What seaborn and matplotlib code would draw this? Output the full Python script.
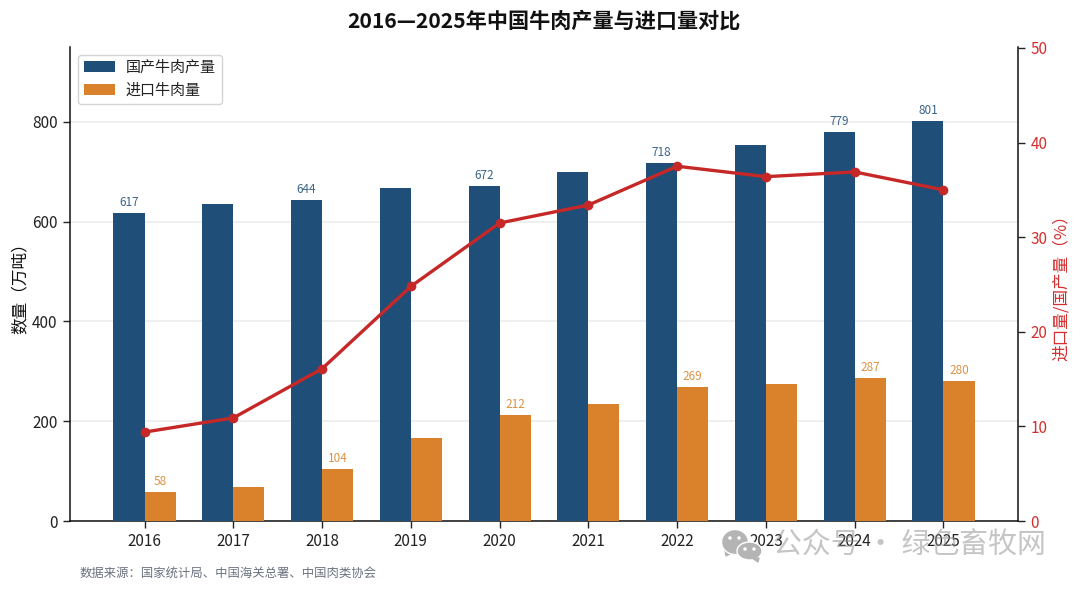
import matplotlib
matplotlib.use("Agg")
import matplotlib.pyplot as plt
from matplotlib.patches import Ellipse, Polygon
import pandas as pd
import seaborn as sns

years = ["2016", "2017", "2018", "2019", "2020", "2021", "2022", "2023", "2024", "2025"]
production = [617, 635, 644, 668, 672, 699, 718, 753, 779, 801]
imports = [58, 69, 104, 166, 212, 234, 269, 275, 287, 280]
ratio = [9.4, 10.9, 16.1, 24.8, 31.5, 33.4, 37.5, 36.4, 36.9, 35.0]
labelled_years = ["2016", "2018", "2020", "2022", "2024", "2025"]
prod_name = "国产牛肉产量"
imp_name = "进口牛肉量"
title = "2016—2025年中国牛肉产量与进口量对比"
source = "数据来源：国家统计局、中国海关总署、中国肉类协会"
watermark = "公众号 · 绿色畜牧网"

BLUE, ORANGE, RED = "#1f4e79", "#d9822b", "#c62828"

sns.set_theme(style="white")
plt.rcParams["font.family"] = ["Noto Sans CJK SC", "DejaVu Sans"]
plt.rcParams["axes.unicode_minus"] = False

df = pd.DataFrame({
    "year": years * 2,
    "value": production + imports,
    "series": [prod_name] * len(years) + [imp_name] * len(years),
})

fig = plt.figure(figsize=(10.8, 5.9), dpi=100)
ax = fig.add_axes([70 / 1080, 1 - 521 / 590, (1018 - 70) / 1080, (521 - 47) / 590])

sns.barplot(data=df, x="year", y="value", hue="series", order=years,
            hue_order=[prod_name, imp_name], palette=[BLUE, ORANGE],
            width=0.7, gap=0, saturation=1, linewidth=0, edgecolor="none", ax=ax, zorder=3)
ax.set_xlim(-0.84, 9.84)
ax.set_ylim(0, 950)
ax.set_yticks([0, 200, 400, 600, 800])
ax.grid(axis="y", color="#ececec", linewidth=1.2, zorder=0)
ax.set_axisbelow(True)
ax.set_xlabel("")
ax.set_ylabel("数量（万吨）", fontsize=12, color="#111111", labelpad=2)
ax.tick_params(axis="both", length=5, width=1, labelsize=11, color="#222222",
               labelcolor="#222222", bottom=True, left=True, pad=4)
for s in ["top", "right"]:
    ax.spines[s].set_visible(False)
for s in ["left", "bottom"]:
    ax.spines[s].set_color("#111111")
    ax.spines[s].set_linewidth(1.1)

for cont, vals, col in zip(ax.containers[:2], (production, imports), (BLUE, ORANGE)):
    labels = [str(v) if y in labelled_years else "" for y, v in zip(years, vals)]
    ax.bar_label(cont, labels=labels, padding=3, fontsize=8.5, color=col, alpha=0.88)

leg = ax.legend(loc="upper left", bbox_to_anchor=(0.0, 1.0), fontsize=10.8, frameon=True,
                edgecolor="#d4d4d4", framealpha=1, borderpad=0.42, handlelength=2.05,
                handleheight=0.75, handletextpad=0.75, labelspacing=0.58, labelcolor="#222222")
leg.get_frame().set_linewidth(1)

ax2 = ax.twinx()
sns.lineplot(x=years, y=ratio, ax=ax2, color=RED, linewidth=2.4, marker="o",
             markersize=7, markeredgewidth=0, sort=False, errorbar=None, zorder=5)
ax2.set_ylim(0, 50 * (521 - 47) / (521 - 48))
ax2.set_yticks([0, 10, 20, 30, 40, 50])
ax2.set_ylabel("进口量/国产量（%）", fontsize=12, color="#d32f2f", labelpad=4)
ax2.tick_params(axis="y", length=5, width=1, labelsize=11, color="#222222",
                labelcolor="#d32f2f", right=True, pad=4)
for s in ["top", "left", "bottom"]:
    ax2.spines[s].set_visible(False)
ax2.spines["right"].set_color("#111111")
ax2.spines["right"].set_linewidth(1.1)

fig.text(544 / 1080, 1 - 21 / 590, title, ha="center", va="center", fontsize=15.2,
         fontweight="bold", color="#111111")
fig.text(80 / 1080, 1 - 573 / 590, source, ha="left", va="center", fontsize=8.9, color="#6b7280")
fig.text(773 / 1080, 1 - 546 / 590, watermark, ha="left", va="center", fontsize=20.8,
         color="#8c8c8c", alpha=0.5, zorder=10)

# WeChat watermark glyph, placed in figure pixels
def px(x, y):
    return (x / 1080, 1 - y / 590)
grey = "#b4b4b4"
for cx, cy, w, h in [(735, 542, 27, 25), (749.5, 551, 25, 18)]:
    fig.add_artist(Ellipse(px(cx, cy), w / 1080, h / 590, facecolor=grey, edgecolor="white", lw=1,
                           transform=fig.transFigure, zorder=9))
for cx, cy in [(730, 538), (739, 538), (745, 549), (754, 549)]:
    fig.add_artist(Ellipse(px(cx, cy), 3.5 / 1080, 3.5 / 590, facecolor="white", edgecolor="none",
                           transform=fig.transFigure, zorder=9.5))
fig.add_artist(Polygon([px(752, 558), px(759, 558), px(758, 562)], color=grey,
                       transform=fig.transFigure, zorder=9))
fig.add_artist(Polygon([px(725, 550), px(732, 553), px(726, 556)], color=grey,
                       transform=fig.transFigure, zorder=8.9))

fig.savefig("out.png", dpi=100, facecolor="white")
